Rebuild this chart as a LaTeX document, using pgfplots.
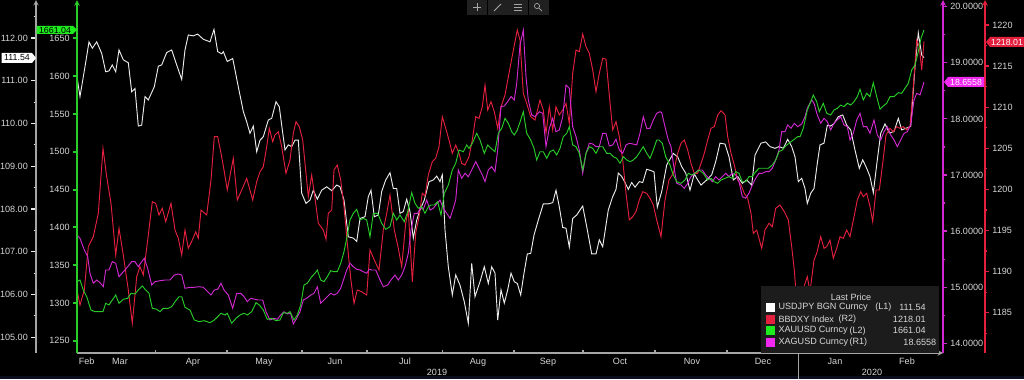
\documentclass[border=0pt]{standalone}
\usepackage{pgfplots}
\pgfplotsset{compat=1.18}
\usepackage{fontspec}
\setmainfont{Liberation Sans}
\definecolor{cW}{RGB}{235,235,235}
\definecolor{cR}{RGB}{228,32,62}
\definecolor{cG}{RGB}{40,205,40}
\definecolor{cGt}{RGB}{30,235,30}
\definecolor{cM}{RGB}{210,40,210}
\definecolor{cMt}{RGB}{240,40,240}
\definecolor{cTxt}{RGB}{215,215,215}
\definecolor{cAx}{RGB}{165,165,165}
\definecolor{cLeg}{RGB}{28,28,28}
\definecolor{cBar}{RGB}{32,32,32}
\definecolor{cBand}{RGB}{10,14,30}
\newcommand{\fs}{\fontsize{6.8}{8}\selectfont}
\pgfplotsset{
  base/.style={scale only axis, anchor=south west, at={(57.75pt,19.5pt)},
    width=649.5pt, height=264.75pt, xmin=77, xmax=943,
    /pgf/number format/assume math mode=true, /pgf/number format/1000 sep={},
    tick label style={font=\fs, text=cTxt},
    axis line style={-}, every outer x axis line/.append style={-},
    every outer y axis line/.append style={-}},
}
\begin{document}
\begin{tikzpicture}[x=0.75pt,y=0.75pt]
\useasboundingbox (0,0) rectangle (1024,379);
\fill[black] (0,0) rectangle (1024,379);
\fill[cBand] (0,0) rectangle (1024,3);

% ---------- white (USDJPY) + x axis ----------
\begin{axis}[base, ymin=104.633, ymax=112.888, axis y line=none, axis x line=bottom,
  x axis line style={cAx,line width=0.8pt},
  xtick={86.7,120,193,264,335,405,478,548,620,692,763,835,907},
  xticklabels={Feb,Mar,Apr,May,Jun,Jul,Aug,Sep,Oct,Nov,Dec,Jan,Feb},
  major tick length=0pt, xticklabel style={anchor=base, yshift=-8.5pt},
  extra x ticks={155.7,227,302,367,442.7,514,583,655,727,798,873},
  extra x tick labels={},
  extra x tick style={major tick length=2.3pt, tick align=inside, tick style={cAx,line width=0.8pt}}]
\addplot[cW, line width=0.7pt] coordinates {(77,111.09)(80,110.63)(85,111.33)(89,111.91)(92.3,111.76)(96.7,111.91)(101.7,111.64)(105.7,111.21)(109,111.23)(112.3,111.37)(115.7,111.21)(119,111.72)(123.3,111.49)(128.3,111.42)(131.7,110.74)(135,110.82)(138.3,109.94)(141.7,109.96)(145,110.63)(148.3,110.55)(154.3,110.86)(158.3,111.34)(161.7,111.37)(166.7,111.66)(171.7,111.72)(176.7,111.37)(181.7,111.03)(185,111.72)(188.3,112.07)(193.3,112.05)(197.7,112.09)(203.3,111.97)(210,111.91)(214,112.20)(217.7,111.68)(221.7,111.63)(223.3,111.68)(227.3,111.45)(232.7,111.52)(238.3,110.86)(243.3,110.28)(246.7,110.04)(250,109.77)(253.3,109.94)(256.7,109.34)(260,109.61)(263.3,109.69)(268.3,110.08)(271.7,110.12)(276,110.51)(279.3,110.39)(281.7,109.96)(285,109.38)(288.3,109.50)(291.7,109.46)(295,109.61)(298.3,109.61)(301.7,108.37)(306,108.13)(310,108.21)(313.3,108.44)(317.3,108.23)(321.7,108.44)(326.7,108.52)(331.7,108.43)(336.7,108.56)(340,108.52)(344,108.21)(348.3,107.35)(353.3,107.32)(356.7,107.24)(360,107.78)(365,107.82)(368.3,108.29)(371,108.44)(374.3,107.82)(378.3,107.86)(381.7,108.41)(385.7,108.68)(390,108.85)(393.3,108.48)(396.7,108.48)(400,107.90)(403.3,107.94)(406.7,108.23)(410,107.94)(413.3,107.32)(416.7,107.74)(420,107.98)(424.3,108.21)(429,108.64)(433.3,108.68)(436.7,108.77)(440,108.64)(442.3,108.80)(445,107.51)(448.3,106.65)(452.3,105.99)(455.7,106.46)(460,106.22)(464.3,105.83)(468.3,105.33)(471.7,106.73)(475,105.95)(480,106.30)(484.3,106.65)(488.3,106.26)(491.7,106.65)(495,106.50)(497.7,105.40)(501,106.11)(504.3,105.80)(507.7,106.11)(511,106.50)(514.3,106.30)(517.3,106.26)(520.7,105.99)(524,106.50)(527.3,106.95)(530.7,106.96)(534,107.39)(538.3,107.74)(543.3,108.12)(548.3,108.12)(552.7,108.15)(556,108.44)(559.3,108.05)(562.7,107.57)(566,107.55)(569.3,107.11)(572.7,107.78)(576.7,107.86)(582.7,108.07)(586.7,107.59)(591.7,106.95)(596,106.95)(599.3,107.28)(602.7,107.12)(608.3,107.98)(612.7,108.29)(616,108.46)(618.3,108.84)(621.7,108.76)(625,108.62)(628.3,108.46)(631.7,108.62)(635,108.51)(639.3,108.64)(642.7,108.62)(646.7,108.93)(650.7,108.90)(654,108.87)(657.3,108.04)(661.7,108.41)(666.7,109.03)(673.3,109.30)(677.7,109.22)(681.7,108.99)(685.7,108.84)(690,108.44)(694.3,108.82)(697.7,108.68)(701,108.56)(706.7,108.68)(711.7,108.80)(715.7,109.11)(720,109.54)(725,109.52)(729,109.22)(733.3,108.68)(737.7,108.76)(742.3,108.60)(746.7,108.68)(751.7,108.56)(755,109.26)(761,109.54)(765.7,109.57)(770,109.46)(775,109.42)(779,109.46)(783.3,109.42)(787.7,109.63)(791.7,109.46)(795,109.22)(798.3,108.64)(801.7,108.72)(805,108.48)(807.3,108.13)(810.7,108.37)(814,108.48)(817.3,109.07)(820,109.50)(824,109.54)(827.3,109.96)(830.7,109.94)(834,110.00)(838.3,110.16)(842.7,110.20)(846.7,109.96)(850.7,109.85)(855,109.38)(859.3,108.95)(862.7,109.15)(866,108.99)(870,108.76)(873.3,108.38)(877.3,109.15)(880.7,109.77)(885,109.99)(889.3,109.78)(894,109.81)(898.3,110.12)(901.7,109.85)(906,109.89)(910.7,109.93)(915,111.33)(918.3,112.12)(921.7,111.60)(924,111.54)};
\end{axis}

% ---------- red (BBDXY) ----------
\begin{axis}[base, ymin=1180.10, ymax=1223.04, hide axis]
\addplot[cR, line width=0.7pt] coordinates {(77,1187.76)(80,1185.94)(84.3,1187.76)(88.3,1193.03)(93.3,1194.25)(98.3,1197.09)(103,1205.00)(106.7,1201.54)(111,1198.31)(115.7,1192.02)(119,1195.27)(123.3,1192.02)(128.3,1187.76)(132.3,1183.71)(136.7,1189.38)(140,1190.60)(143.3,1189.59)(147.7,1193.84)(152.3,1198.50)(155.7,1198.31)(159,1196.89)(162.3,1197.70)(165.7,1196.07)(171,1198.31)(175,1195.06)(178.3,1194.05)(181.7,1192.02)(185,1195.06)(188.3,1192.83)(192.3,1193.84)(195.7,1194.85)(198.3,1194.05)(201,1197.49)(206.7,1196.89)(211,1201.14)(214.3,1206.41)(217.7,1206.41)(221,1204.39)(224,1202.36)(227.3,1199.93)(233.3,1203.78)(237.3,1198.71)(241.7,1199.93)(246.7,1201.35)(252.7,1198.71)(256.7,1200.94)(260,1202.15)(263.3,1202.76)(266.7,1205.19)(269.3,1207.43)(272.7,1205.80)(275,1206.62)(278.3,1207.02)(281.7,1205.19)(286,1201.96)(290,1203.58)(293.3,1206.82)(296,1208.24)(299.3,1207.63)(302.7,1206.01)(306,1201.96)(308.3,1199.11)(311.7,1201.75)(315,1198.92)(318.3,1195.88)(323.3,1195.06)(326,1193.93)(328.3,1197.09)(331.7,1197.49)(334,1202.36)(337.3,1202.97)(340.7,1201.14)(344,1197.90)(347.3,1193.44)(350.7,1189.18)(354,1186.14)(357.3,1187.76)(361.7,1187.55)(366.7,1187.15)(370,1192.63)(374.3,1191.41)(379,1190.19)(383.3,1195.06)(386.7,1197.09)(390,1199.32)(394.3,1195.06)(398.3,1192.83)(401.7,1190.60)(405.7,1195.88)(408.3,1197.49)(412.3,1188.77)(415.7,1194.66)(419,1196.68)(422.3,1199.52)(425,1199.20)(428.3,1201.75)(432.3,1203.37)(435.7,1203.78)(439,1205.19)(442.3,1208.84)(445.7,1207.43)(449,1206.01)(452.3,1204.39)(455.7,1205.40)(459,1204.39)(461.7,1203.17)(465,1202.97)(469,1203.98)(472.3,1206.01)(475.7,1208.84)(479,1208.65)(482.3,1210.06)(485,1212.70)(487.7,1209.66)(491,1210.67)(494.3,1209.45)(497.7,1207.43)(501,1210.06)(505,1211.48)(509,1214.12)(514,1217.36)(517.3,1219.39)(520,1218.17)(523.3,1211.69)(526.7,1210.47)(530.7,1208.84)(535,1208.44)(540,1210.87)(543.3,1209.66)(546,1206.82)(549.3,1210.06)(552.7,1207.23)(556,1210.06)(559.3,1209.05)(562.7,1209.66)(566,1210.47)(569.3,1208.04)(572.7,1214.12)(576,1216.96)(579.3,1216.75)(582.7,1218.90)(586,1217.36)(589.3,1216.56)(592.7,1214.52)(596,1211.88)(599.3,1214.12)(602.7,1215.95)(606,1215.83)(609.3,1211.48)(612.7,1207.23)(616,1208.24)(619.3,1206.41)(622.7,1203.58)(626,1199.52)(629.3,1196.28)(632.7,1196.68)(636,1197.29)(639.3,1198.71)(642.7,1199.72)(646.7,1199.52)(650,1198.92)(653.3,1198.10)(656.7,1196.28)(661,1194.25)(665,1198.71)(669,1201.14)(673.3,1201.96)(677.7,1204.39)(681,1205.61)(684.3,1206.01)(687.7,1204.79)(691,1203.17)(694.3,1201.96)(697.7,1201.96)(701,1203.17)(704.3,1204.39)(707.7,1206.01)(711,1207.43)(714.3,1207.63)(717.7,1209.05)(721,1209.57)(725,1209.05)(727.7,1206.41)(731,1204.39)(734.3,1202.97)(737.7,1201.14)(741,1200.53)(744.3,1199.52)(747.7,1198.92)(751,1197.09)(753.3,1194.66)(756.7,1195.06)(761.7,1192.83)(765,1195.06)(769,1195.88)(772.3,1195.46)(775.7,1197.70)(780,1198.10)(784.3,1197.29)(788.3,1196.28)(791.7,1193.03)(794.3,1190.19)(797,1185.82)(800,1186.95)(804,1188.16)(807.3,1189.38)(810,1187.55)(814,1191.41)(816.7,1192.23)(820.7,1194.25)(824,1192.83)(826.7,1193.03)(830,1193.84)(833.3,1191.62)(836.7,1192.83)(840,1194.25)(843.3,1194.05)(846.7,1195.06)(850,1194.25)(854,1196.68)(857.3,1198.71)(860.7,1199.72)(863.3,1199.11)(866.7,1199.52)(870,1197.90)(872.7,1196.07)(876,1199.93)(879.3,1199.93)(882.7,1203.17)(886,1206.62)(890,1207.43)(893.3,1207.02)(896.7,1207.63)(900,1207.43)(903.3,1207.63)(906.7,1207.23)(910,1207.71)(913.3,1212.49)(916.7,1218.17)(919.3,1217.36)(921.7,1214.52)(924,1218.01)};
\end{axis}

% ---------- magenta (XAGUSD), R1 axis ----------
\begin{axis}[base, ymin=13.827, ymax=20.119, axis x line=none, axis y line=right,
  y axis line style={cM, line width=0.9pt},
  ytick={14,15,...,20}, minor ytick={14.5,15.5,...,19.5},
  yticklabel={\pgfmathprintnumber[fixed,fixed zerofill,precision=4]{\tick}},
  tick align=outside, major tick length=3pt, minor tick length=1.6pt,
  ytick style={cM, line width=0.9pt}, yticklabel style={xshift=-1pt}]
\addplot[cM, line width=0.7pt] coordinates {(77,15.930)(80,15.871)(84.3,15.663)(87.7,15.544)(90,15.248)(93.3,15.070)(96.7,15.128)(100,15.080)(103.3,15.009)(105.7,15.307)(109,15.307)(112.3,15.455)(115.7,15.426)(119,15.187)(123.3,15.276)(127.7,15.365)(131.7,15.455)(135,15.455)(138.3,15.365)(141.7,15.455)(144.3,15.515)(147.7,15.337)(151.7,15.039)(155,15.098)(160,15.116)(165,15.128)(170,15.128)(174.3,15.217)(178.3,15.235)(181.7,15.217)(185,14.980)(190,14.998)(194.3,14.998)(199,15.009)(203.3,14.998)(207.7,14.920)(211,14.861)(214.3,14.950)(217.7,14.963)(221,15.070)(224,14.950)(228.3,14.861)(232.7,14.624)(236.7,14.891)(240.7,14.891)(244,14.831)(247.3,14.742)(250.7,14.802)(255,14.784)(258.3,14.772)(262.7,14.772)(266,14.563)(270,14.415)(274,14.446)(277.3,14.428)(280.7,14.505)(284,14.563)(287.3,14.522)(290.7,14.535)(293.3,14.344)(296.7,14.446)(300,14.563)(303.3,14.772)(306.7,14.802)(310.7,14.861)(314,14.891)(317.3,15.009)(320.7,14.713)(324,14.772)(327.3,14.831)(330.7,14.891)(334,14.861)(337.3,14.891)(340.7,14.980)(344,15.159)(346.7,15.307)(350,15.426)(353.3,15.365)(356.7,15.319)(360,15.307)(363.3,15.276)(366.7,15.248)(369.3,15.319)(371.7,15.307)(375.7,15.307)(380,15.128)(383.3,15.009)(387.7,15.039)(391,15.128)(395,15.217)(398.3,15.128)(401.7,15.217)(405,15.365)(408.3,15.604)(411,16.020)(414.3,16.317)(417.7,16.317)(420,16.406)(423.3,16.389)(426.7,16.554)(430,16.376)(433.3,16.406)(436.7,16.483)(440,16.554)(443.3,16.406)(446.7,16.317)(450,16.228)(453.3,16.406)(455.7,16.554)(458.3,17.089)(461.7,16.941)(465,17.030)(468.3,16.970)(471.7,17.089)(475.7,17.237)(479,17.119)(482.3,17.000)(485,16.881)(488.3,17.089)(491.7,17.148)(495,17.059)(497.7,17.446)(501,18.217)(504.3,18.230)(507.7,18.307)(511,18.396)(514.3,18.337)(516.7,18.634)(520,19.317)(523.3,19.585)(526,18.752)(528.3,18.337)(531.7,18.070)(535,18.039)(539.3,18.128)(542.7,18.100)(546,17.505)(549.3,17.832)(552.7,18.011)(556,17.772)(559.3,17.802)(562.7,18.039)(566,18.604)(569.3,18.545)(572.7,17.861)(576,17.683)(579.3,17.446)(582.7,17.030)(586,17.387)(589.3,17.565)(592.7,17.553)(596,17.505)(599.3,17.505)(602.7,17.743)(606,17.743)(609.3,17.517)(612.7,17.535)(616,17.637)(619.3,17.446)(622.7,17.387)(626,17.535)(629.3,17.565)(632.7,17.553)(636.7,17.535)(640,17.743)(643.3,18.039)(646.7,17.832)(650,17.832)(653.3,17.980)(656.7,18.100)(660,18.128)(661.7,18.111)(665,17.861)(668.3,17.624)(671,17.505)(673.3,17.208)(676.7,16.852)(681,16.822)(684.3,16.763)(687.7,16.852)(691,16.970)(694.3,17.018)(698.3,17.089)(702.3,17.089)(705.7,17.000)(709,16.941)(712.3,16.881)(715.7,16.970)(719,16.911)(722.3,16.970)(725.7,17.030)(729,16.970)(732.3,17.030)(735.7,17.000)(739,16.881)(742.3,16.613)(745.7,16.585)(749,16.674)(752.3,16.822)(755.7,16.941)(759,17.030)(762.3,17.030)(765.7,17.059)(769,17.059)(772.3,17.119)(775.7,17.267)(779,17.446)(781.7,17.772)(785,17.772)(787.7,17.891)(791,17.832)(794.3,17.922)(797.7,17.861)(801.7,17.909)(805,18.039)(807.3,18.189)(811.7,18.337)(814,18.278)(817.3,18.070)(820.7,17.922)(824,18.011)(827.3,17.950)(830.7,17.802)(834,17.922)(837.3,17.980)(840.7,18.039)(844,17.891)(847.3,17.861)(850,17.624)(853.3,17.743)(856.7,17.980)(860,18.100)(863.3,17.861)(866.7,17.861)(870,17.743)(874,17.980)(877.3,17.713)(880.7,17.624)(884,17.772)(887.3,17.861)(890.7,17.713)(894,17.624)(897.3,17.505)(900.7,17.624)(904,17.743)(907.3,17.772)(910.7,17.891)(914,18.337)(916.7,18.456)(920,18.426)(924,18.6558)};
\end{axis}

% ---------- green (XAUUSD), L2 axis ----------
\begin{axis}[base, ymin=1233.75, ymax=1700.7, axis x line=none, axis y line=left,
  y axis line style={cG, line width=0.9pt},
  ytick={1250,1300,...,1650},
  tick align=outside, major tick length=3pt,
  ytick style={cG, line width=1.5pt}, yticklabel style={xshift=1pt}]
\addplot[cG, line width=0.7pt] coordinates {(77,1328.1)(80,1330.3)(83.3,1317.1)(86.7,1308.2)(91,1290.6)(95,1288.4)(99,1288.4)(103,1288.4)(105.7,1299.5)(109,1297.3)(112.3,1303.9)(115.7,1310.5)(119,1299.5)(123.3,1304.8)(127.7,1306.1)(131,1312.7)(135,1311.8)(138.3,1317.1)(142.3,1322.4)(145.7,1317.1)(149,1312.7)(152.3,1292.9)(156.7,1291.6)(160,1288.4)(163.3,1292.9)(168.3,1292.9)(171.7,1295.0)(175,1301.6)(179,1308.2)(181.7,1308.2)(185,1294.2)(190,1290.6)(194.3,1277.4)(199,1275.2)(204.3,1276.5)(210,1273.8)(214.3,1277.4)(217.7,1281.8)(221,1286.3)(225,1284.0)(227.3,1286.3)(231.7,1273.0)(236,1279.7)(240,1284.0)(244,1286.3)(247.3,1284.0)(251.7,1288.4)(256,1300.3)(259.3,1297.3)(263.3,1290.6)(267.3,1278.3)(271.7,1279.7)(276,1276.5)(280,1277.4)(283.3,1287.1)(287.3,1286.3)(290,1288.4)(294,1277.4)(297.3,1284.0)(300.7,1297.3)(304,1323.7)(307.3,1326.0)(311.7,1334.7)(315,1339.2)(317.3,1343.5)(320.7,1330.3)(324,1328.1)(327.3,1334.7)(330.7,1342.6)(334,1341.3)(337.3,1341.3)(340.7,1352.4)(344,1367.8)(346.7,1385.5)(350,1409.7)(353.3,1418.5)(356.7,1423.8)(360,1409.7)(363.3,1411.9)(366.7,1409.7)(370,1387.6)(373.3,1418.5)(377.7,1418.5)(381.7,1405.3)(385.7,1397.4)(390,1400.8)(393.3,1418.5)(396.7,1409.7)(400,1416.3)(404.3,1407.4)(407.7,1420.7)(411.7,1445.8)(415,1431.8)(418.3,1425.2)(421.7,1427.3)(425,1418.5)(428.3,1427.3)(431,1429.5)(434.3,1429.5)(437.7,1433.9)(441,1416.3)(444.3,1445.0)(448.3,1456.0)(452.3,1475.8)(455.7,1484.7)(459,1502.3)(463.3,1500.0)(466.7,1508.9)(469,1504.5)(472.3,1511.1)(476.7,1524.4)(480,1515.5)(484.3,1497.9)(487.7,1508.9)(491,1504.5)(495,1500.0)(498.3,1524.4)(501.7,1531.0)(505,1544.2)(508.3,1537.6)(511.7,1526.5)(514.3,1522.1)(517.3,1528.7)(520.7,1542.0)(523.3,1552.9)(526.7,1524.4)(530.7,1515.5)(534,1504.5)(536.7,1489.1)(540,1500.0)(543.3,1500.0)(546.7,1491.3)(550,1500.0)(553.3,1502.3)(556.7,1495.7)(560,1504.5)(563.3,1519.9)(566.7,1524.4)(569.3,1533.1)(572.7,1508.9)(576,1506.6)(579.3,1497.9)(582.7,1475.8)(586,1497.9)(589.3,1506.6)(592.7,1504.5)(596,1497.9)(599.3,1506.6)(602.7,1506.6)(606.7,1497.9)(610,1497.9)(613.3,1493.4)(616.7,1491.3)(620,1484.7)(623.3,1493.4)(626.7,1489.1)(630,1486.8)(633.3,1489.1)(636.7,1493.4)(640,1500.0)(643.3,1506.6)(646.7,1497.9)(650,1491.3)(653.3,1502.3)(656.7,1515.5)(659,1515.5)(662.3,1511.1)(665.7,1493.4)(670,1482.4)(673.3,1469.2)(676.7,1460.3)(681,1458.2)(685,1462.6)(688.3,1471.5)(691.7,1469.2)(695,1471.5)(699,1475.8)(703.3,1471.5)(707.7,1462.6)(711,1464.8)(714.3,1460.3)(717.7,1458.2)(721,1462.6)(725,1464.8)(729,1467.0)(732.3,1464.8)(735.7,1473.6)(739,1471.5)(742.3,1460.3)(745.7,1460.3)(749,1467.0)(752.3,1467.0)(755.7,1473.6)(759,1478.1)(763.3,1478.1)(768.3,1478.1)(772.3,1482.4)(775.7,1489.1)(779,1500.0)(782.3,1502.3)(785.7,1507.6)(789,1511.1)(793.3,1515.5)(797.7,1519.9)(800,1519.9)(803.3,1531.0)(807.3,1555.2)(810.7,1566.2)(813.3,1575.0)(816.7,1566.2)(819.3,1552.9)(823.3,1564.1)(826.7,1550.8)(830.7,1548.6)(834,1555.2)(837.3,1557.4)(840.7,1561.8)(844,1559.6)(847.3,1564.1)(850.7,1561.8)(854,1566.2)(857.3,1572.8)(860,1582.6)(863.3,1568.4)(866.7,1577.3)(870,1572.8)(873.3,1591.3)(876.7,1572.8)(880,1556.1)(883.3,1560.5)(886.7,1564.1)(890,1572.8)(894,1572.8)(898.3,1578.1)(901.7,1577.3)(905,1583.9)(908.3,1590.5)(911.7,1608.1)(915,1614.7)(918.3,1632.3)(921,1650.0)(924,1661.04)};
\end{axis}

% ---------- L1 axis (USDJPY scale) ----------
\begin{axis}[base, at={(27pt,19.5pt)}, width=30.75pt, xmin=0, xmax=1,
  ymin=104.633, ymax=112.888, axis x line=none, axis y line=left,
  y axis line style={cAx, line width=0.8pt},
  ytick={105,106,...,112}, minor ytick={105.5,106.5,...,112.5},
  yticklabel={\pgfmathprintnumber[fixed,fixed zerofill,precision=2]{\tick}},
  tick align=outside, major tick length=3.6pt, minor tick length=1.8pt,
  ytick style={cW, line width=0.8pt}, yticklabel style={xshift=1pt}]
\addplot[draw=none] coordinates {(0,105)};
\end{axis}

% ---------- R2 axis (BBDXY scale) ----------
\begin{axis}[base, at={(707.25pt,19.5pt)}, width=31.5pt, xmin=0, xmax=1,
  ymin=1180.10, ymax=1223.04, axis x line=none, axis y line=right,
  y axis line style={cR, line width=0.9pt},
  ytick={1185,1190,...,1220}, minor ytick={1182.5,1187.5,...,1222.5},
  tick align=outside, major tick length=3pt, minor tick length=1.6pt,
  ytick style={cR, line width=0.9pt}, yticklabel style={xshift=-1pt}]
\addplot[draw=none] coordinates {(0,1200)};
\end{axis}

% ---------- value tags ----------
\fill[cGt] (36.7,353) -- (73,353) -- (77,349) -- (73,345) -- (36.7,345) -- cycle;
\node[font=\fontsize{6.6}{7}\selectfont, text=black, inner sep=0] at (55,349) {1661.04};
\fill[white] (1.7,326) -- (32,326) -- (36,321) -- (32,316) -- (1.7,316) -- cycle;
\node[font=\fontsize{6.6}{7}\selectfont, text=black, inner sep=0] at (17,321) {111.54};
\fill[cMt] (944,297) -- (948,302) -- (984,302) -- (984,292) -- (948,292) -- cycle;
\node[font=\fontsize{6.6}{7}\selectfont, text=white, inner sep=0] at (966,297) {18.6558};
\fill[cR] (986,337) -- (990,342) -- (1024,342) -- (1024,332) -- (990,332) -- cycle;
\node[font=\fontsize{6.6}{7}\selectfont, text=white, inner sep=0] at (1007,337) {1218.01};

% ---------- legend ----------
\fill[cLeg] (761,26.5) rectangle (939,93);
\node[font=\fs, text=cTxt] at (851,81.7) {Last Price};
\fill[white] (766,67.2) rectangle (775,76.2);
\fill[cR] (766,55.2) rectangle (775,64.2);
\fill[cGt] (766,43.8) rectangle (775,52.8);
\fill[cMt] (766,32.2) rectangle (775,41.2);
\begin{scope}[every node/.style={font=\fs, text=cTxt, inner sep=0}]
\node[anchor=west] at (778.3,71.7) {USDJPY BGN Curncy};
\node[anchor=west] at (875,71.7) {(L1)};
\node[anchor=east] at (926,71.7) {111.54};
\node[anchor=west] at (778.3,59.7) {BBDXY Index};
\node[anchor=west] at (838.3,59.7) {(R2)};
\node[anchor=east] at (926,59.7) {1218.01};
\node[anchor=west] at (778.3,48.3) {XAUUSD Curncy};
\node[anchor=west] at (849.3,48.3) {(L2)};
\node[anchor=east] at (926,48.3) {1661.04};
\node[anchor=west] at (778.3,36.7) {XAGUSD Curncy};
\node[anchor=west] at (849.3,36.7) {(R1)};
\node[anchor=east] at (936.5,36.7) {18.6558};
\end{scope}

% ---------- year labels / separators ----------
\draw[cAx, line width=0.6pt] (798,0) -- (798,26);
\node[font=\fs, text=cTxt] at (437,7) {2019};
\node[font=\fs, text=cTxt] at (872,7) {2020};

% ---------- toolbar ----------
\foreach \a in {467,487.5,508,528.5} {\fill[cBar] (\a,364) rectangle ++(20,15);}
\draw[gray!70, line width=0.5pt] (473,371.5) -- (481,371.5) (477,367.5) -- (477,375.5);
\draw[gray!70, line width=0.6pt] (494,368) -- (501,375);
\draw[gray!70, line width=0.6pt] (514,368.5) -- (522,368.5) (514,371.5) -- (522,371.5) (514,374.5) -- (522,374.5);
\draw[gray!70, line width=0.5pt] (537,373) circle (2.6) (539,370.8) -- (542,367.8);
\end{tikzpicture}
\end{document}
